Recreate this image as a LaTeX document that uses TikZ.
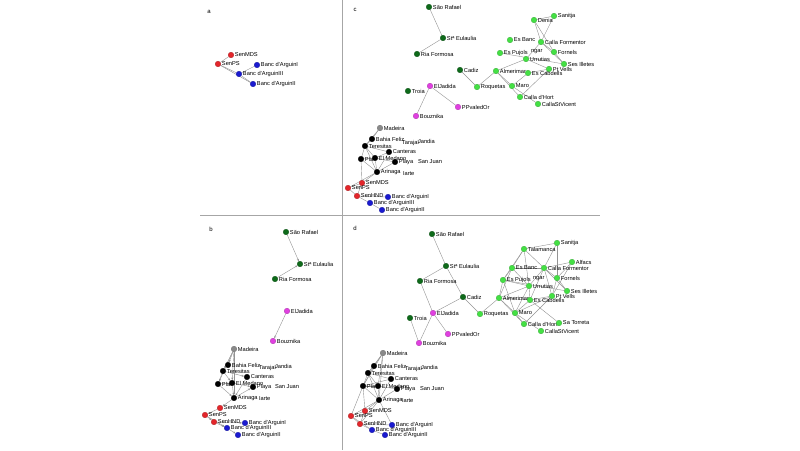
\documentclass[tikz,border=0pt]{standalone}
\usepackage{fontspec}
\setmainfont{Liberation Sans}
\usetikzlibrary{arrows.meta}
\definecolor{cred}{HTML}{E3262B}
\definecolor{cblue}{HTML}{1A1AD0}
\definecolor{dkg}{HTML}{0E6A1A}
\definecolor{ltg}{HTML}{44E044}
\definecolor{cmag}{HTML}{E040E0}
\definecolor{cgray}{HTML}{8A8A8A}
\definecolor{cblk}{HTML}{000000}
\pgfdeclarelayer{blur}
\pgfdeclarelayer{bg}
\pgfsetlayers{blur,bg,main}
\begin{document}
\begin{tikzpicture}[x=1pt,y=-1pt,
  dot/.style={circle,inner sep=0pt,minimum size=5.6pt,draw=#1!75!black,fill=#1,line width=0.3pt},
  lab/.style={font=\fontsize{5.7}{6}\selectfont,inner sep=0.8pt},
  edge/.style={draw=gray!85,line width=0.4pt},
  aedge/.style={edge,-{Stealth[length=2.5pt,width=2pt]}},
  divider/.style={draw=gray!70,line width=0.9pt},
  plab/.style={font=\fontsize{6}{7}\selectfont}]
\useasboundingbox (0,0) rectangle (800,450);
\begin{pgfonlayer}{blur}
\fill[white] (0,0) rectangle (800,450);
\end{pgfonlayer}
% dividers
\draw[divider] (342,0) -- (342,450);
\draw[divider] (200,215) -- (600,215);
% panel letters
\node[plab] (la) at (209,12) {a};
\node[plab] (lc) at (355,10) {c};
\node[plab] (lb) at (211,229) {b};
\node[plab] (ld) at (355,228) {d};
% ---------- nodes ----------
\foreach \n/\x/\y/\c/\lbl in {
 aMDS/231/55/cred/SenMDS, aPS/218/64/cred/SenPS, aB1/257/65/cblue/Banc d'ArguinI,
 aB3/239/74/cblue/Banc d'ArguinIII, aB2/253/84/cblue/Banc d'ArguinII,
 cSR/429/7/dkg/São Rafael, cSE/443/38/dkg/Stª Eulaulia, cRF/417/54/dkg/Ria Formosa,
 cCd/460/70/dkg/Cadiz, cEJ/430/86/cmag/ElJadida, cTr/408/91/dkg/Troia,
 cPP/458/107/cmag/PPvaledOr, cBo/416/116/cmag/Bouznika,
 cDe/534/20/ltg/Denia, cSa/554/16/ltg/Sanitja, cEB/510/40/ltg/Es Banc,
 cCF/541/42/ltg/Calla Formentor, cEP/500/53/ltg/Es Pujols, cFo/554/52/ltg/Fornels,
 cUr/526/59/ltg/Urrutias, cSI/564/64/ltg/Ses Illetes, cPV/549/69/ltg/Pt Vells,
 cAm/496/71/ltg/Almerimar, cEC/528/73/ltg/Es Cabdells, cRo/477/87/ltg/Roquetas,
 cMaro/512/86/ltg/Maro, cCH/520/97/ltg/Calla d'Hort, cCSV/538/104/ltg/CallaStVicent,
 cMa/380/128/cgray/Madeira, cBF/372/139/cblk/Bahia Feliz, cTe/365/146/cblk/Teresitas,
 cCa/389/152/cblk/Canteras, cPl/361/159/cblk/Pla, cEM/375/158/cblk/El Medano,
 cPSJ/395/162/cblk/Playa, cAr/377/172/cblk/Arinaga,
 cSM/362/183/cred/SenMDS, cSP/348/188/cred/SenPS, cSH/357/196/cred/SenHND,
 cB1/388/197/cblue/Banc d'ArguinI, cB3/370/203/cblue/Banc d'ArguinIII, cB2/382/210/cblue/Banc d'ArguinII,
 bSR/286/232/dkg/São Rafael, bSE/300/264/dkg/Stª Eulaulia, bRF/275/279/dkg/Ria Formosa,
 bEJ/287/311/cmag/ElJadida, bBo/273/341/cmag/Bouznika,
 bMa/234/349/cgray/Madeira, bBF/228/365/cblk/Bahia Feliz, bTe/223/371/cblk/Teresitas,
 bCa/247/377/cblk/Canteras, bPl/218/384/cblk/Pla, bEM/232/383/cblk/El Medano,
 bPSJ/253/387/cblk/Playa, bAr/234/398/cblk/Arinaga,
 bSM/220/408/cred/SenMDS, bSP/205/415/cred/SenPS, bSH/214/422/cred/SenHND,
 bB1/245/423/cblue/Banc d'ArguinI, bB3/227/428/cblue/Banc d'ArguinIII, bB2/238/435/cblue/Banc d'ArguinII,
 dSR/432/234/dkg/São Rafael, dSE/446/266/dkg/Stª Eulaulia, dRF/420/281/dkg/Ria Formosa,
 dCd/463/297/dkg/Cadiz, dEJ/433/313/cmag/ElJadida, dTr/410/318/dkg/Troia,
 dPP/448/334/cmag/PPvaledOr, dBo/419/343/cmag/Bouznika,
 dTa/524/249/ltg/Talamanca, dSa/557/243/ltg/Sanitja, dAl/572/262/ltg/Alfacs,
 dEB/512/268/ltg/Es Banc, dCF/544/268/ltg/Calla Formentor, dEP/503/280/ltg/Es Pujols,
 dFo/557/278/ltg/Fornels, dUr/529/286/ltg/Urrutias, dSI/567/291/ltg/Ses Illetes,
 dPV/552/296/ltg/Pt Vells, dAm/499/298/ltg/Almerimar, dEC/530/300/ltg/Es Cabdells,
 dRo/480/314/ltg/Roquetas, dMaro/515/313/ltg/Maro, dCH/524/324/ltg/Calla d'Hort,
 dST/559/323/ltg/Sa Torreta, dCSV/541/331/ltg/CallaStVicent,
 dMa/383/353/cgray/Madeira, dBF/374/366/cblk/Bahia Feliz, dTe/368/373/cblk/Teresitas,
 dCa/391/379/cblk/Canteras, dPl/363/386/cblk/Pla, dEM/378/386/cblk/El Medano,
 dPSJ/397/389/cblk/Playa, dAr/379/400/cblk/Arinaga,
 dSM/365/411/cred/SenMDS, dSP/351/416/cred/SenPS, dSH/360/424/cred/SenHND,
 dB1/392/425/cblue/Banc d'ArguinI, dB3/372/430/cblue/Banc d'ArguinIII, dB2/385/435/cblue/Banc d'ArguinII}
 {\node[dot=\c,label={[lab,label distance=0pt]right:\lbl}] (\n) at (\x,\y) {};}
% partly hidden labels
\foreach \n/\x/\y/\lbl in {
 cTar/401/143/Tarajal, cJan/417/141/Jandia, cSJ/417/162/San Juan, cIa/402/174/Iarte, cNg/530/52/ngar,
 bTar/258/368/Tarajal, bJan/274/366/Jandia, bSJ/274/387/San Juan, bIa/258/399/Iarte,
 dTar/404/369/Tarajal, dJan/420/367/Jandia, dSJ/419/389/San Juan, dIa/401/401/Iarte, dNg/532/279/ngar}
 {\node[lab,anchor=west] (\n) at (\x,\y) {\lbl};}
% ---------- edges ----------
\begin{pgfonlayer}{bg}
\foreach \u/\v in {
 aMDS/aPS, aPS/aB3, aPS/aB2, aB3/aB2, aB1/aB3,
 cSR/cSE, cSE/cRF, cEJ/cBo, cEJ/cPP, cCd/cRo,
 cDe/cSa, cDe/cCF, cDe/cFo, cSa/cCF, cCF/cFo, cCF/cSI, cCF/cUr, cFo/cSI, cEP/cSI,
 cUr/cAm, cUr/cPV, cAm/cRo, cAm/cMaro, cAm/cCH, cEC/cMaro, cEC/cPV, cPV/cCH, cMaro/cCSV,
 cMa/cBF, cMa/cTe, cBF/cTe, cTe/cPl, cTe/cCa, cTe/cEM, cTe/cAr, cPl/cEM, cPl/cAr, cPl/cSM,
 cEM/cAr, cEM/cPSJ, cCa/cAr, cCa/cEM, cAr/cPSJ, cAr/cSM, cAr/cSP, cSM/cSP, cSP/cSH,
 cSH/cB3, cSH/cB1, cB3/cB2, cSM/cSH,
 dSR/dSE, dSE/dRF, dSE/dCd, dRF/dEJ, dCd/dEJ, dCd/dRo, dEJ/dPP, dEJ/dBo, dTr/dBo,
 dTa/dEB, dTa/dCF, dTa/dSa, dTa/dEP, dTa/dUr, dSa/dCF, dSa/dFo, dAl/dCF, dAl/dFo, dAl/dPV,
 dEB/dCF, dEB/dEP, dEB/dUr, dEB/dAm, dCF/dFo, dCF/dUr, dCF/dEC, dCF/dPV, dCF/dSI,
 dEP/dAm, dEP/dUr, dEP/dSI, dUr/dAm, dUr/dEC, dUr/dMaro, dFo/dPV, dFo/dSI,
 dAm/dEC, dAm/dMaro, dAm/dCH, dAm/dRo, dEC/dMaro, dEC/dST, dEC/dPV, dMaro/dCH,
 dMaro/dCSV, dPV/dCH, dMaro/dPV, dEP/dMaro,
 dMa/dBF, dMa/dTe, dMa/dPl, dMa/dEM, dMa/dAr, dBF/dTe, dBF/dPl, dTe/dPl, dTe/dCa, dTe/dEM,
 dTe/dAr, dPl/dEM, dPl/dAr, dPl/dSM, dPl/dSP, dEM/dAr, dEM/dPSJ, dCa/dAr, dCa/dPl,
 dAr/dPSJ, dAr/dSM, dAr/dSP, dAr/dSH, dAr/dB1, dSM/dSP, dSP/dSH, dSM/dSH, dSH/dB3,
 dSH/dB1, dB3/dB2, dSP/dB3}
 {\draw[edge] (\u) -- (\v);}
\foreach \u/\v in {
 bSR/bSE, bRF/bSE, bEJ/bBo,
 bMa/bBF, bMa/bTe, bMa/bPl, bMa/bEM, bMa/bAr, bTe/bPl, bTe/bEM, bTe/bCa, bPl/bAr,
 bEM/bAr, bCa/bAr, bEM/bPSJ, bPl/bEM, bAr/bPSJ, bAr/bSM, bSM/bSP, bSP/bSH,
 bSH/bB3, bSH/bB1, bB3/bB2, bSP/bB3}
 {\draw[aedge] (\u) -- (\v);}
\end{pgfonlayer}
\end{tikzpicture}
\end{document}
